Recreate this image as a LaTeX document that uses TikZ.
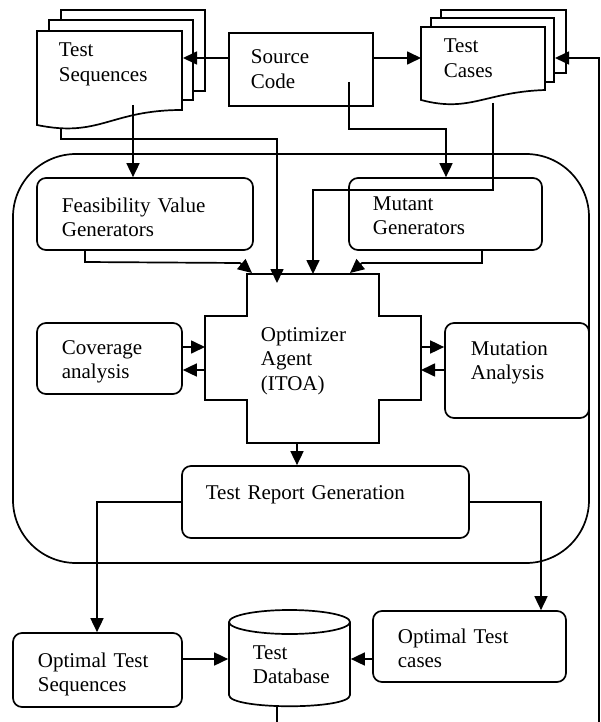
\documentclass[tikz,border=0pt]{standalone}
\usepackage{fontspec}
\setmainfont{Liberation Serif}
\usetikzlibrary{arrows.meta}
\begin{document}
\begin{tikzpicture}[x=1pt,y=-1pt,
  line width=1.7pt,
  arr/.style={-{Triangle[length=14pt,width=13pt]}},
  box/.style={draw, rectangle, inner sep=0pt},
  rbox/.style={draw, rectangle, rounded corners=9pt, inner sep=0pt},
  txt/.style={anchor=base west, inner sep=0pt, align=left, text width=250pt,
    font=\fontsize{21}{24.5}\selectfont}]
\useasboundingbox (0,0) rectangle (601,722);
\clip (0,0) rectangle (601,722);
\fill[white] (0,0) rectangle (601,722);

% big container
\draw[rounded corners=63pt] (13,154) rectangle (589,563);

% Test Sequences document stack
\draw (61,20) -- (61,10) -- (205,10) -- (205,91) -- (193,91);
\draw (49,31) -- (49,20) -- (193,20) -- (193,100) -- (182,100);
\draw[fill=white] (37,31) -- (182,31) -- (182,110) .. controls (110,110) and (100,138) .. (37,125) -- cycle;
\node[txt] (tsT) at (58,57) {Test\\Sequences};

% Test Cases document stack
\draw (441,18) -- (441,10) -- (566,10) -- (566,73) -- (554,73);
\draw (431,27) -- (431,18) -- (554,18) -- (554,82) -- (545,82);
\draw[fill=white] (421,27) -- (545,27) -- (545,90) .. controls (485,92) and (470,113) .. (421,100) -- cycle;
\node[txt] (tcT) at (443,53) {Test\\Cases};

% boxes
\node[box, minimum width=144pt, minimum height=73pt] (src) at (301,69.5) {};
\node[txt] (srcT) at (250,64) {Source\\Code};

\node[rbox, minimum width=216pt, minimum height=72pt] (fvg) at (145,214) {};
\node[txt] (fvgT) at (61,212) {Feasibility Value\\Generators};

\node[rbox, minimum width=193pt, minimum height=72pt] (mut) at (445.5,214) {};
\node[txt] (mutT) at (372,210) {Mutant\\Generators};

\node[rbox, minimum width=145pt, minimum height=71pt] (cov) at (109.5,358.5) {};
\node[txt] (covT) at (61,354) {Coverage\\analysis};

\node[rbox, minimum width=144pt, minimum height=95pt] (mua) at (517,370.5) {};
\node[txt] (muaT) at (470,355) {Mutation\\Analysis};

% optimizer cross
\node[minimum width=216pt, minimum height=169pt, inner sep=0pt] (opt) at (313,358.5) {};
\draw (247,274) -- (379,274) -- (379,316) -- (421,316) -- (421,400) -- (379,400)
  -- (379,443) -- (247,443) -- (247,400) -- (205,400) -- (205,316) -- (247,316) -- cycle;
\node[txt] (optT) at (260,341) {Optimizer\\Agent\\(ITOA)};

\node[rbox, minimum width=287pt, minimum height=72pt] (trg) at (325.5,502) {};
\node[txt] (trgT) at (205,499) {Test Report Generation};

\node[rbox, minimum width=169pt, minimum height=74pt] (ots) at (97.5,670) {};
\node[txt] (otsT) at (37,667) {Optimal Test\\Sequences};

\node[rbox, minimum width=193pt, minimum height=71pt] (otc) at (469.5,646.5) {};
\node[txt] (otcT) at (397,643) {Optimal Test\\cases};

% database cylinder
\node[minimum width=121pt, minimum height=97pt, inner sep=0pt] (db) at (289.5,658.5) {};
\draw (229,622) -- (229,695) .. controls (229,710) and (350,710) .. (350,695) -- (350,622);
\draw (289.5,622) ellipse [x radius=60.5pt, y radius=12pt];
\node[txt] (dbT) at (252,659) {Test\\Database};

% connectors
\draw[arr] (src.west |- 0,58) -- (183,58);
\draw[arr] (src.east |- 0,58) -- (421,58);
\draw[arr] (133,105) -- (fvg.north -| 133,0);
\draw[arr] (61,129) -- (61,139) -- (277,139) -- (277,283);
\draw[arr] (349,82) -- (349,129) -- (446,129) -- (mut.north -| 446,0);
\draw[arr] (493,103) -- (493,190) -- (313,190) -- (313,274);
\draw[arr] (fvg.south -| 85,0) -- (85,262) -- (240,263) -- (252,273);
\draw[arr] (mut.south -| 482,0) -- (482,263) -- (362,263) -- (350,273);
\draw[arr] (cov.east |- 0,347) -- (205,347);
\draw[arr] (205,370) -- (cov.east |- 0,370);
\draw[arr] (421,347) -- (mua.west |- 0,347);
\draw[arr] (mua.west |- 0,370) -- (421,370);
\draw[arr] (297,443) -- (trg.north -| 297,0);
\draw[arr] (trg.west |- 0,502) -- (97,502) -- (ots.north -| 97,0);
\draw[arr] (trg.east |- 0,502) -- (541,502) -- (otc.north -| 541,0);
\draw[arr] (ots.east |- 0,659) -- (db.west |- 0,659);
\draw[arr] (otc.west |- 0,659) -- (db.east |- 0,659);
\draw[arr] (277,707) -- (277,740) -- (599,740) -- (599,58) -- (555,58);
\end{tikzpicture}
\end{document}
